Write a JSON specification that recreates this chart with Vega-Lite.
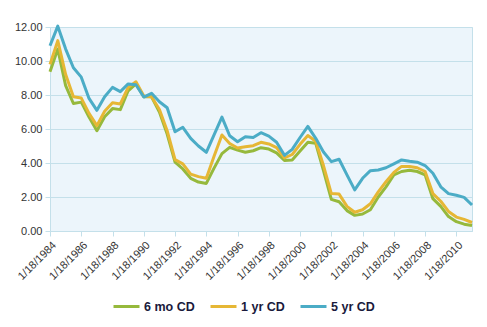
{
  "$schema": "https://vega.github.io/schema/vega-lite/v6.json",
  "width": 422,
  "height": 204,
  "autosize": {"type": "none"},
  "padding": {"left": 50, "top": 27, "right": 15, "bottom": 96},
  "background": "#FFFFFF",
  "config": {
    "font": "Liberation Sans",
    "view": {"fill": "#ECF5FB", "stroke": "#C4E0EA", "strokeWidth": 1}
  },
  "data": {
    "values": [
      {"date": "1984-01-18", "6 mo CD": 9.37, "1 yr CD": 9.8, "5 yr CD": 10.9},
      {"date": "1984-07-18", "6 mo CD": 10.7, "1 yr CD": 11.2, "5 yr CD": 12.05},
      {"date": "1985-01-18", "6 mo CD": 8.55, "1 yr CD": 9.2, "5 yr CD": 10.7},
      {"date": "1985-07-18", "6 mo CD": 7.5, "1 yr CD": 7.9, "5 yr CD": 9.6},
      {"date": "1986-01-18", "6 mo CD": 7.58, "1 yr CD": 7.82, "5 yr CD": 9.05},
      {"date": "1986-07-18", "6 mo CD": 6.7, "1 yr CD": 6.92, "5 yr CD": 7.8},
      {"date": "1987-01-18", "6 mo CD": 5.9, "1 yr CD": 6.2, "5 yr CD": 7.1},
      {"date": "1987-07-18", "6 mo CD": 6.72, "1 yr CD": 7.04, "5 yr CD": 7.9},
      {"date": "1988-01-18", "6 mo CD": 7.2, "1 yr CD": 7.55, "5 yr CD": 8.45},
      {"date": "1988-07-18", "6 mo CD": 7.14, "1 yr CD": 7.47, "5 yr CD": 8.2},
      {"date": "1989-01-18", "6 mo CD": 8.25, "1 yr CD": 8.45, "5 yr CD": 8.65},
      {"date": "1989-07-18", "6 mo CD": 8.65, "1 yr CD": 8.78, "5 yr CD": 8.6},
      {"date": "1990-01-18", "6 mo CD": 7.9, "1 yr CD": 7.94, "5 yr CD": 7.88},
      {"date": "1990-07-18", "6 mo CD": 7.9, "1 yr CD": 7.9, "5 yr CD": 8.1},
      {"date": "1991-01-18", "6 mo CD": 7.0, "1 yr CD": 7.15, "5 yr CD": 7.6},
      {"date": "1991-07-18", "6 mo CD": 5.7, "1 yr CD": 5.9, "5 yr CD": 7.25},
      {"date": "1992-01-18", "6 mo CD": 4.05, "1 yr CD": 4.2, "5 yr CD": 5.84},
      {"date": "1992-07-18", "6 mo CD": 3.65, "1 yr CD": 3.95, "5 yr CD": 6.1},
      {"date": "1993-01-18", "6 mo CD": 3.1, "1 yr CD": 3.35, "5 yr CD": 5.45},
      {"date": "1993-07-18", "6 mo CD": 2.88, "1 yr CD": 3.2, "5 yr CD": 5.0},
      {"date": "1994-01-18", "6 mo CD": 2.8, "1 yr CD": 3.1, "5 yr CD": 4.63},
      {"date": "1994-07-18", "6 mo CD": 3.7, "1 yr CD": 4.4, "5 yr CD": 5.66},
      {"date": "1995-01-18", "6 mo CD": 4.55, "1 yr CD": 5.65, "5 yr CD": 6.7},
      {"date": "1995-07-18", "6 mo CD": 4.92, "1 yr CD": 5.15, "5 yr CD": 5.6},
      {"date": "1996-01-18", "6 mo CD": 4.76, "1 yr CD": 4.88, "5 yr CD": 5.25},
      {"date": "1996-07-18", "6 mo CD": 4.63, "1 yr CD": 4.95, "5 yr CD": 5.55},
      {"date": "1997-01-18", "6 mo CD": 4.72, "1 yr CD": 5.02, "5 yr CD": 5.5},
      {"date": "1997-07-18", "6 mo CD": 4.9, "1 yr CD": 5.22, "5 yr CD": 5.78},
      {"date": "1998-01-18", "6 mo CD": 4.82, "1 yr CD": 5.12, "5 yr CD": 5.58},
      {"date": "1998-07-18", "6 mo CD": 4.6, "1 yr CD": 4.9, "5 yr CD": 5.22},
      {"date": "1999-01-18", "6 mo CD": 4.15, "1 yr CD": 4.3, "5 yr CD": 4.45},
      {"date": "1999-07-18", "6 mo CD": 4.18, "1 yr CD": 4.5, "5 yr CD": 4.8},
      {"date": "2000-01-18", "6 mo CD": 4.7, "1 yr CD": 5.1, "5 yr CD": 5.5},
      {"date": "2000-07-18", "6 mo CD": 5.22, "1 yr CD": 5.62, "5 yr CD": 6.15},
      {"date": "2001-01-18", "6 mo CD": 5.16, "1 yr CD": 5.28, "5 yr CD": 5.45},
      {"date": "2001-07-18", "6 mo CD": 3.55, "1 yr CD": 3.85, "5 yr CD": 4.65},
      {"date": "2002-01-18", "6 mo CD": 1.86, "1 yr CD": 2.2, "5 yr CD": 4.08},
      {"date": "2002-07-18", "6 mo CD": 1.72, "1 yr CD": 2.17, "5 yr CD": 4.22},
      {"date": "2003-01-18", "6 mo CD": 1.2, "1 yr CD": 1.45, "5 yr CD": 3.3},
      {"date": "2003-07-18", "6 mo CD": 0.92, "1 yr CD": 1.1, "5 yr CD": 2.42},
      {"date": "2004-01-18", "6 mo CD": 1.0, "1 yr CD": 1.25, "5 yr CD": 3.1},
      {"date": "2004-07-18", "6 mo CD": 1.25, "1 yr CD": 1.6, "5 yr CD": 3.55},
      {"date": "2005-01-18", "6 mo CD": 2.0, "1 yr CD": 2.3, "5 yr CD": 3.59},
      {"date": "2005-07-18", "6 mo CD": 2.6, "1 yr CD": 2.9, "5 yr CD": 3.72},
      {"date": "2006-01-18", "6 mo CD": 3.3, "1 yr CD": 3.45, "5 yr CD": 3.95},
      {"date": "2006-07-18", "6 mo CD": 3.5, "1 yr CD": 3.8, "5 yr CD": 4.18},
      {"date": "2007-01-18", "6 mo CD": 3.57, "1 yr CD": 3.8, "5 yr CD": 4.1},
      {"date": "2007-07-18", "6 mo CD": 3.5, "1 yr CD": 3.72, "5 yr CD": 4.05},
      {"date": "2008-01-18", "6 mo CD": 3.3, "1 yr CD": 3.5, "5 yr CD": 3.85},
      {"date": "2008-07-18", "6 mo CD": 1.9, "1 yr CD": 2.2, "5 yr CD": 3.4},
      {"date": "2009-01-18", "6 mo CD": 1.45, "1 yr CD": 1.75, "5 yr CD": 2.6},
      {"date": "2009-07-18", "6 mo CD": 0.85, "1 yr CD": 1.15, "5 yr CD": 2.2},
      {"date": "2010-01-18", "6 mo CD": 0.55, "1 yr CD": 0.82, "5 yr CD": 2.1},
      {"date": "2010-07-18", "6 mo CD": 0.4, "1 yr CD": 0.68, "5 yr CD": 1.98},
      {"date": "2011-01-18", "6 mo CD": 0.32, "1 yr CD": 0.5, "5 yr CD": 1.53}
    ]
  },
  "transform": [
    {"fold": ["6 mo CD", "1 yr CD", "5 yr CD"], "as": ["series", "rate"]}
  ],
  "mark": {"type": "line", "strokeWidth": 3, "strokeJoin": "round", "clip": false},
  "encoding": {
    "x": {
      "field": "date",
      "type": "temporal",
      "scale": {
        "type": "utc",
        "domain": [
          {"year": 1984, "month": 1, "date": 18, "utc": true},
          {"year": 2011, "month": 1, "date": 18, "utc": true}
        ]
      },
      "axis": {
        "title": null,
        "values": [
          {"year": 1984, "month": 1, "date": 18, "utc": true},
          {"year": 1986, "month": 1, "date": 18, "utc": true},
          {"year": 1988, "month": 1, "date": 18, "utc": true},
          {"year": 1990, "month": 1, "date": 18, "utc": true},
          {"year": 1992, "month": 1, "date": 18, "utc": true},
          {"year": 1994, "month": 1, "date": 18, "utc": true},
          {"year": 1996, "month": 1, "date": 18, "utc": true},
          {"year": 1998, "month": 1, "date": 18, "utc": true},
          {"year": 2000, "month": 1, "date": 18, "utc": true},
          {"year": 2002, "month": 1, "date": 18, "utc": true},
          {"year": 2004, "month": 1, "date": 18, "utc": true},
          {"year": 2006, "month": 1, "date": 18, "utc": true},
          {"year": 2008, "month": 1, "date": 18, "utc": true},
          {"year": 2010, "month": 1, "date": 18, "utc": true}
        ],
        "format": "%-m/%-d/%Y",
        "labelAngle": -45,
        "labelAlign": "right",
        "labelBaseline": "top",
        "labelFontSize": 11,
        "labelColor": "#333333",
        "labelPadding": 3,
        "labelOverlap": false,
        "labelFlush": false,
        "grid": false,
        "domainColor": "#C4E0EA",
        "tickColor": "#C4E0EA",
        "tickSize": 5
      }
    },
    "y": {
      "field": "rate",
      "type": "quantitative",
      "scale": {"domain": [0, 12], "nice": false},
      "axis": {
        "title": null,
        "values": [0, 2, 4, 6, 8, 10, 12],
        "format": ".2f",
        "labelFontSize": 11,
        "labelColor": "#333333",
        "labelPadding": 3,
        "gridColor": "#C4E0EA",
        "gridOpacity": 1,
        "domainColor": "#C4E0EA",
        "tickColor": "#C4E0EA",
        "tickSize": 5
      }
    },
    "color": {
      "field": "series",
      "type": "nominal",
      "sort": ["6 mo CD", "1 yr CD", "5 yr CD"],
      "scale": {
        "domain": ["6 mo CD", "1 yr CD", "5 yr CD"],
        "range": ["#96B93C", "#E6B735", "#4BACC6"]
      },
      "legend": {
        "title": null,
        "orient": "none",
        "direction": "horizontal",
        "legendX": 62,
        "legendY": 265,
        "symbolType": "stroke",
        "symbolSize": 676,
        "symbolStrokeWidth": 3,
        "labelFontSize": 12.5,
        "labelFontWeight": "bold",
        "labelColor": "#1A1A3C",
        "labelOffset": 3,
        "columnPadding": 9
      }
    }
  }
}
